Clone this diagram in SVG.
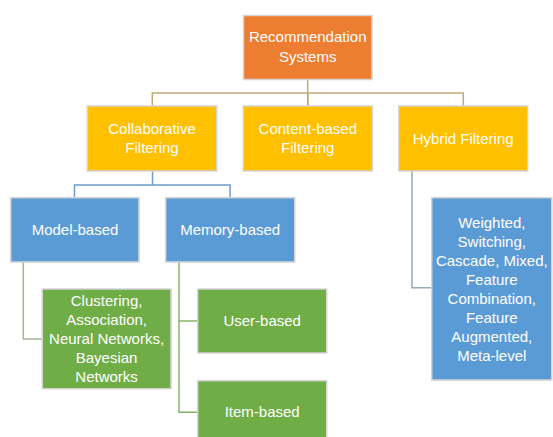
<svg xmlns="http://www.w3.org/2000/svg" width="553" height="437" viewBox="0 0 553 437">
  <style>
    .box { stroke: #D4D4D4; stroke-width: 1.5; }
    .orange { fill: #ED7D31; }
    .gold { fill: #FFC000; }
    .blue { fill: #5B9BD5; }
    .green { fill: #70AD47; }
    text { font-family: "Liberation Sans", Arial, sans-serif; font-size: 15px; fill: #FFFFFF; text-anchor: middle; }
    .link { fill: none; stroke-width: 1.5; }
  </style>
  <rect width="553" height="437" fill="#FFFFFF"/>

  <!-- connectors -->
  <g id="connectors">
    <path class="link" stroke="#BFAA74" d="M307.7,79.5 V106 M152.3,106 V93 H463.3 V106 M308,93 V106"/>
    <path class="link" stroke="#6E9CC9" d="M152.5,171 V185 M74.5,197.7 V185 H230 V197.7"/>
    <path class="link" stroke="#98A9BB" d="M412,171 V287.7 H431.7"/>
    <path class="link" stroke="#A3B596" d="M23.3,262 V339 H42.3"/>
    <path class="link" stroke="#84B466" d="M179,262 V412.3 H197.7 M179,321 H197.7"/>
  </g>

  <g id="recommendation-systems">
    <rect class="box orange" x="243.5" y="15.5" width="128.5" height="64"/>
    <text x="307.7" y="42">Recommendation</text>
    <text x="307.7" y="62">Systems</text>
  </g>

  <g id="collaborative-filtering">
    <rect class="box gold" x="87.3" y="106" width="129.4" height="65"/>
    <text x="152" y="134">Collaborative</text>
    <text x="152" y="153">Filtering</text>
  </g>

  <g id="content-based-filtering">
    <rect class="box gold" x="243.3" y="106" width="129" height="65"/>
    <text x="307.8" y="134">Content-based</text>
    <text x="307.8" y="153">Filtering</text>
  </g>

  <g id="hybrid-filtering">
    <rect class="box gold" x="398.7" y="106" width="129" height="65"/>
    <text x="463.2" y="143.5">Hybrid Filtering</text>
  </g>

  <g id="model-based">
    <rect class="box blue" x="10.7" y="197.7" width="128.3" height="64.3"/>
    <text x="75" y="234.5">Model-based</text>
  </g>

  <g id="memory-based">
    <rect class="box blue" x="165.7" y="197.7" width="129" height="64.3"/>
    <text x="230.2" y="234.5">Memory-based</text>
  </g>

  <g id="hybrid-methods">
    <rect class="box blue" x="431.7" y="197.7" width="120" height="182.3"/>
    <text x="491.8" y="228">Weighted,</text>
    <text x="491.8" y="247">Switching,</text>
    <text x="491.8" y="266">Cascade, Mixed,</text>
    <text x="491.8" y="285">Feature</text>
    <text x="491.8" y="304">Combination,</text>
    <text x="491.8" y="323">Feature</text>
    <text x="491.8" y="342">Augmented,</text>
    <text x="491.8" y="361">Meta-level</text>
  </g>

  <g id="model-techniques">
    <rect class="box green" x="42.3" y="289" width="128.7" height="99.7"/>
    <text x="106.6" y="306">Clustering,</text>
    <text x="106.6" y="325">Association,</text>
    <text x="106.6" y="344">Neural Networks,</text>
    <text x="106.6" y="363">Bayesian</text>
    <text x="106.6" y="381.5">Networks</text>
  </g>

  <g id="user-based">
    <rect class="box green" x="197.7" y="289" width="129" height="64"/>
    <text x="262.2" y="326">User-based</text>
  </g>

  <g id="item-based">
    <rect class="box green" x="197.7" y="380.7" width="129" height="64"/>
    <text x="262.2" y="417">Item-based</text>
  </g>
</svg>
